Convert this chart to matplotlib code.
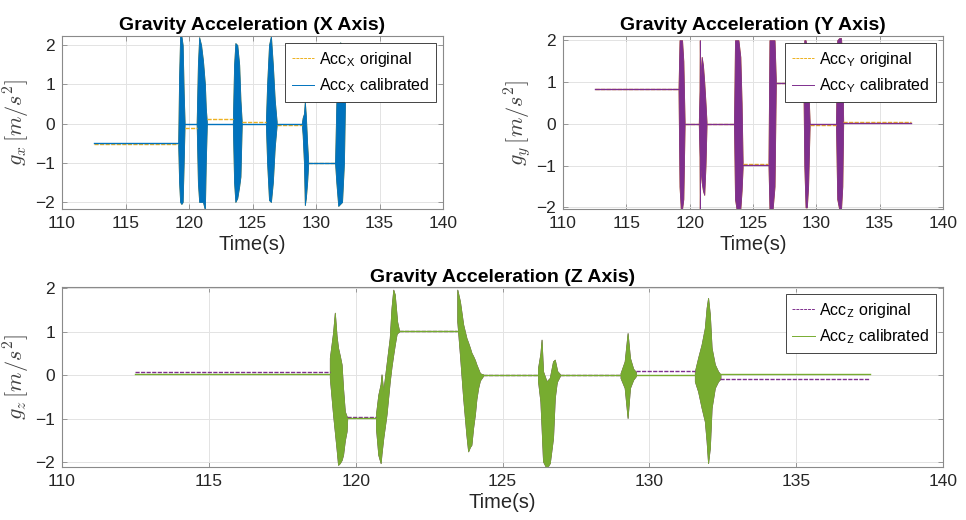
import numpy as np
import matplotlib.pyplot as plt

plt.rcParams['font.family'] = ['Liberation Sans', 'DejaVu Sans']
plt.rcParams['mathtext.fontset'] = 'cm'

#cores
laranja = '#EDB120'
azul = '#0072BD'
roxo = '#7E2F8E'
verde = '#77AC30'

#eixo X - trechos parados: inicio, fim, nivel original, nivel calibrado
x_flat_t0 = [112.5, 119.65, 121.4, 124.15, 126.9, 129.38, 132.3]
x_flat_t1 = [119.15, 120.6, 123.45, 126.05, 128.88, 131.5, 137.5]
x_flat_orig = [-0.52, -0.12, 0.11, 0.03, -0.03, -1.0, 1.0]
x_flat_cal = [-0.50, 0.0, 0.0, 0.0, 0.0, -1.0, 1.0]
#eixo X - rajadas (envelope superior e inferior)
x_burst_t = [[119.15, 119.22, 119.3, 119.4, 119.5, 119.58, 119.65],
             [120.6, 120.7, 120.8, 120.95, 121.1, 121.25, 121.32, 121.4],
             [123.45, 123.55, 123.65, 123.8, 123.95, 124.05, 124.15],
             [126.05, 126.15, 126.3, 126.45, 126.6, 126.75, 126.9],
             [128.88, 128.95, 129.05, 129.12, 129.2, 129.3, 129.38],
             [131.5, 131.6, 131.75, 131.9, 132.05, 132.2, 132.3]]
x_burst_hi = [[-0.45, 1.2, 2.23, 2.23, 2.0, 0.8, 0.05],
              [0.0, 1.5, 2.2, 2.0, 1.6, 1.0, 0.4, 0.05],
              [0.0, 1.5, 2.05, 2.0, 1.5, 0.6, 0.05],
              [0.0, 1.0, 2.0, 2.23, 1.5, 0.6, 0.05],
              [0.0, 0.15, 0.25, 0.56, 0.2, -0.5, -0.95],
              [-1.0, 0.5, 1.5, 2.07, 2.0, 1.5, 1.0]]
x_burst_lo = [[-0.55, -1.5, -2.0, -2.05, -2.0, -1.0, -0.05],
              [0.0, -1.5, -2.0, -2.0, -2.0, -2.2, -1.0, -0.05],
              [0.0, -1.5, -2.0, -1.9, -1.6, -1.35, -0.05],
              [0.0, -1.0, -1.95, -2.0, -1.5, -0.6, -0.05],
              [0.0, -0.3, -1.0, -2.08, -1.9, -1.5, -1.05],
              [-1.0, -1.5, -2.1, -2.05, -2.0, -1.0, 0.9]]

#eixo Y
y_flat_t0 = [112.5, 119.6, 121.33, 124.18, 126.8, 129.47, 132.12]
y_flat_t1 = [119.12, 120.72, 123.5, 126.22, 128.98, 131.55, 137.5]
y_flat_orig = [0.84, 0.0, 0.0, -0.96, 0.98, -0.04, 0.04]
y_flat_cal = [0.84, 0.0, 0.0, -0.98, 0.98, 0.0, 0.02]
y_burst_t = [[119.12, 119.2, 119.3, 119.4, 119.5, 119.6],
             [120.72, 120.78, 120.8, 120.83, 120.95, 121.05, 121.15, 121.25, 121.33],
             [123.5, 123.58, 123.7, 123.85, 124.0, 124.1, 124.18],
             [126.22, 126.3, 126.4, 126.55, 126.7, 126.8],
             [128.98, 129.05, 129.15, 129.25, 129.35, 129.47],
             [131.55, 131.65, 131.8, 131.95, 132.05, 132.12]]
y_burst_hi = [[0.84, 2.0, 2.0, 2.0, 1.5, 0.05],
              [0.0, 0.8, 2.0, 1.0, 1.6, 1.4, 1.0, 0.5, 0.05],
              [0.0, 2.0, 2.0, 2.0, 1.6, 0.5, -0.9],
              [-0.97, 2.0, 2.0, 2.0, 2.0, 1.05],
              [0.98, 2.0, 2.0, 1.8, 1.0, 0.05],
              [0.0, 2.0, 2.05, 2.05, 1.5, 0.05]]
y_burst_lo = [[0.8, -1.5, -2.04, -2.04, -1.8, -0.05],
              [0.0, -0.8, -2.04, -1.0, -1.4, -1.6, -1.7, -1.0, -0.05],
              [0.0, -1.8, -2.04, -2.04, -2.04, -1.6, -1.05],
              [-0.97, -2.04, -2.04, -2.04, -1.5, 0.9],
              [0.98, -1.0, -2.0, -2.0, -1.5, -0.05],
              [0.0, -1.8, -2.04, -2.04, -1.5, 0.0]]

#eixo Z
z_flat_t0 = [112.5, 119.71, 121.47, 124.34, 126.95, 129.54, 132.42]
z_flat_t1 = [119.12, 120.69, 123.46, 126.21, 129.02, 131.55, 137.5]
z_flat_orig = [0.08, -0.97, 1.01, 0.0, 0.0, 0.11, -0.09]
z_flat_cal = [0.02, -0.98, 1.01, 0.0, 0.0, 0.0, 0.02]
z_burst_t = [[119.12, 119.23, 119.29, 119.35, 119.4, 119.46, 119.52, 119.57, 119.63, 119.69, 119.71],
             [120.69, 120.77, 120.85, 120.88, 120.94, 121.05, 121.16, 121.22, 121.28, 121.33, 121.39, 121.41, 121.47],
             [123.46, 123.55, 123.66, 123.77, 123.83, 123.89, 123.94, 124.0, 124.06, 124.11, 124.17, 124.23, 124.29, 124.34],
             [126.21, 126.29, 126.33, 126.38, 126.5, 126.61, 126.72, 126.78, 126.84, 126.86, 126.95],
             [129.02, 129.16, 129.26, 129.34, 129.45, 129.54],
             [131.55, 131.66, 131.78, 131.89, 131.95, 132.0, 132.06, 132.12, 132.23, 132.34, 132.42]]
z_burst_hi = [[0.4, 0.98, 1.44, 0.9, 0.63, 0.45, 0.25, -0.3, -0.83, -0.94, -0.97],
              [-0.9, -0.45, -0.2, 0.02, -0.37, 0.25, 0.86, 1.55, 1.97, 1.86, 1.4, 1.24, 1.05],
              [1.97, 1.7, 1.17, 0.86, 0.75, 0.63, 0.52, 0.44, 0.35, 0.25, 0.15, 0.05, 0.03, 0.02],
              [0.17, 0.5, 0.82, 0.09, -0.14, -0.06, 0.32, 0.36, 0.17, 0.1, 0.03],
              [0.05, 0.32, 0.97, 0.4, 0.15, 0.08],
              [0.09, 0.4, 0.71, 1.09, 1.55, 1.78, 1.4, 0.63, 0.25, 0.09, 0.02]]
z_burst_lo = [[-0.06, -0.9, -1.3, -1.7, -2.06, -2.02, -1.95, -1.83, -1.5, -1.29, -1.02],
              [-1.21, -1.83, -2.02, -1.8, -1.44, -0.9, -0.14, 0.2, 0.48, 0.7, 0.94, 0.97, 1.0],
              [1.24, 0.48, -0.52, -1.37, -1.75, -1.65, -1.6, -1.2, -0.9, -0.55, -0.29, -0.12, -0.06, -0.01],
              [-0.14, -0.6, -1.2, -1.98, -2.14, -2.02, -1.44, -0.52, -0.2, -0.14, -0.02],
              [-0.06, -0.29, -0.98, -0.29, -0.1, -0.02],
              [-0.14, -0.37, -0.75, -1.06, -1.52, -2.02, -1.67, -0.75, -0.29, -0.14, -0.08]]


def desenha(ax, t0, t1, nivel, bt, bhi, blo, cor, traco, rotulo):
    for i in range(len(t0)):
        ax.plot([t0[i], t1[i]], [nivel[i], nivel[i]], linestyle=traco, color=cor,
                lw=1.0, label=rotulo if i == 0 else None)
    for t, hi, lo in zip(bt, bhi, blo):
        ax.fill_between(t, lo, hi, color=cor, lw=0.6)


def arruma(ax, ylim, ylab, titulo):
    ax.set_xlim(110, 140)
    ax.set_ylim(ylim)
    ax.set_xticks(np.arange(110, 141, 5))
    ax.set_yticks([-2, -1, 0, 1, 2])
    ax.grid(True, color='#e3e3e3', lw=0.7)
    ax.set_axisbelow(True)
    ax.tick_params(direction='in', top=True, right=True, length=3.5, width=0.6,
                   color='#8a8a8a', labelcolor='#262626', labelsize=12.5, pad=5)
    for s in ax.spines.values():
        s.set_color('#8a8a8a')
        s.set_linewidth(0.8)
    ax.set_title(titulo, fontweight='bold', fontsize=14, pad=4)
    ax.set_xlabel('Time(s)', fontsize=14.5, color='#262626', labelpad=3)
    ax.set_ylabel(ylab, fontsize=16, color='#404040', labelpad=2)
    leg = ax.legend(loc='upper right', fontsize=11.5, fancybox=False, framealpha=1,
                    edgecolor='#262626', handlelength=1.4, handletextpad=0.3,
                    borderaxespad=0.45, borderpad=0.4, labelspacing=0.5)
    leg.get_frame().set_linewidth(0.6)
    for l in leg.get_lines():
        l.set_linewidth(0.7)


fig = plt.figure(figsize=(9.66, 5.2), dpi=100)
ax1 = fig.add_axes([0.0642, 0.598, 0.3944, 0.3327])
ax2 = fig.add_axes([0.5828, 0.598, 0.3934, 0.3327])
ax3 = fig.add_axes([0.0642, 0.1019, 0.912, 0.346])

desenha(ax1, x_flat_t0, x_flat_t1, x_flat_orig, x_burst_t, x_burst_hi, x_burst_lo,
        laranja, (0, (3, 1)), r'Acc$_\mathsf{X}$ original')
desenha(ax1, x_flat_t0, x_flat_t1, x_flat_cal, x_burst_t, x_burst_hi, x_burst_lo,
        azul, '-', r'Acc$_\mathsf{X}$ calibrated')
arruma(ax1, (-2.18, 2.23), r'$g_x\,[m/s^2]$', 'Gravity Acceleration (X Axis)')

desenha(ax2, y_flat_t0, y_flat_t1, y_flat_orig, y_burst_t, y_burst_hi, y_burst_lo,
        laranja, (0, (3, 1)), r'Acc$_\mathsf{Y}$ original')
desenha(ax2, y_flat_t0, y_flat_t1, y_flat_cal, y_burst_t, y_burst_hi, y_burst_lo,
        roxo, '-', r'Acc$_\mathsf{Y}$ calibrated')
arruma(ax2, (-2.04, 2.1), r'$g_y\,[m/s^2]$', 'Gravity Acceleration (Y Axis)')

desenha(ax3, z_flat_t0, z_flat_t1, z_flat_orig, z_burst_t, z_burst_hi, z_burst_lo,
        roxo, (0, (3, 1)), r'Acc$_\mathsf{Z}$ original')
desenha(ax3, z_flat_t0, z_flat_t1, z_flat_cal, z_burst_t, z_burst_hi, z_burst_lo,
        verde, '-', r'Acc$_\mathsf{Z}$ calibrated')
arruma(ax3, (-2.11, 2.03), r'$g_z\,[m/s^2]$', 'Gravity Acceleration (Z Axis)')

fig.savefig('out.png', dpi=100)
